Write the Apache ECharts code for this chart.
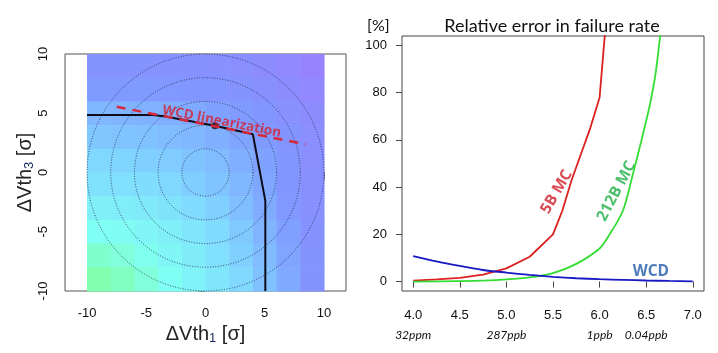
<!DOCTYPE html>
<html>
<head>
<meta charset="utf-8">
<script src="https://cdn.jsdelivr.net/npm/echarts@6/dist/echarts.min.js"></script>
<style>
html, body { margin: 0; padding: 0; background: #fff; }
#main { width: 718px; height: 353px; }
</style>
</head>
<body>
<div id="main"></div>
<script>
// ---- left panel: failure region in (dVth1, dVth3) space
const fieldX = [-9, -7, -5, -3, -1, 1, 3, 5, 7, 9];
const fieldY = [9, 7, 5, 3, 1, -1, -3, -5, -7, -9];
const fieldValues = [
  [0.80, 0.80, 0.80, 0.81, 0.81, 0.82, 0.84, 0.87, 0.91, 0.97],
  [0.74, 0.74, 0.74, 0.75, 0.76, 0.78, 0.80, 0.83, 0.87, 0.92],
  [0.63, 0.64, 0.65, 0.66, 0.68, 0.71, 0.74, 0.78, 0.82, 0.87],
  [0.57, 0.58, 0.59, 0.61, 0.63, 0.66, 0.70, 0.74, 0.79, 0.85],
  [0.50, 0.51, 0.53, 0.55, 0.58, 0.61, 0.66, 0.71, 0.77, 0.84],
  [0.44, 0.45, 0.47, 0.50, 0.54, 0.58, 0.63, 0.69, 0.76, 0.83],
  [0.35, 0.36, 0.39, 0.43, 0.48, 0.53, 0.60, 0.67, 0.75, 0.82],
  [0.25, 0.27, 0.30, 0.35, 0.41, 0.48, 0.56, 0.64, 0.72, 0.81],
  [0.13, 0.17, 0.23, 0.30, 0.37, 0.45, 0.53, 0.61, 0.70, 0.80],
  [0.03, 0.09, 0.17, 0.25, 0.33, 0.41, 0.50, 0.59, 0.68, 0.79]
];
const circleRadii = [2, 4, 6, 8, 10];
const boundaryX = [-10, -4.5, -3.5, 0.8, 4.0, 5.05, 5.05];
const boundaryY = [4.85, 4.85, 4.75, 3.95, 3.22, -2.4, -10];
const linearX = [-7.5, 8.45];
const linearY = [5.55, 2.38];
const wcdPoint = [0.8, 3.95];
const linearLabelPos = [1.37, 4.3];
const sigmaTicks = [-10, -5, 0, 5, 10];

// ---- right panel: relative error vs sigma level
const mc5bX = [4.0, 4.25, 4.5, 4.75, 5.0, 5.25, 5.5, 5.6, 5.7, 5.8, 5.9, 6.0, 6.07];
const mc5bY = [0.4, 0.9, 1.6, 2.9, 5.6, 10.5, 20, 30, 43, 54, 65, 78, 111];
const mc212bX = [4.0, 4.5, 4.75, 5.0, 5.25, 5.5, 5.75, 6.0, 6.1, 6.25, 6.36, 6.45, 6.54, 6.6, 6.65, 6.67];
const mc212bY = [0.0, 0.2, 0.4, 0.9, 1.8, 3.6, 7.5, 14, 19.5, 30, 46, 60, 75, 88, 104, 110];
const wcdX = [4.0, 4.25, 4.5, 4.75, 5.0, 5.25, 5.5, 5.75, 6.0, 6.25, 6.5, 6.75, 7.0];
const wcdY = [10.8, 8.5, 6.6, 4.9, 3.8, 2.8, 2.0, 1.4, 1.0, 0.7, 0.45, 0.25, 0.1];
const levelTicks = [4.0, 4.5, 5.0, 5.5, 6.0, 6.5, 7.0];
const errorTicks = [0, 20, 40, 60, 80, 100];
const rateTicks = [4.0, 5.0, 6.0, 6.5];
const rateLabels = ['32ppm', '287ppb', '1ppb', '0.04ppb'];
const curveLabels = [
  { text: '5B MC', pos: [5.54, 38], rotate: 60, color: '#cf1f2b' },
  { text: '212B MC', pos: [6.18, 38.3], rotate: 62, color: '#1fae45' },
  { text: 'WCD', pos: [6.55, 4.3], rotate: 0, color: '#1f5aa8' }
];

const zip = (xs, ys) => xs.map((x, i) => [x, ys[i]]);

const fieldData = [];
fieldY.forEach((y, r) => fieldX.forEach((x, c) => fieldData.push([x, y, fieldValues[r][c]])));

const chart = echarts.init(document.getElementById('main'));
const tickFont = { fontFamily: 'Liberation Sans', fontSize: 13, color: '#111' };
const nameRich = {
  b: { fontFamily: 'Liberation Sans', fontSize: 20, color: '#222' },
  s: { fontFamily: 'Liberation Sans', fontSize: 13, color: '#1a2a60', verticalAlign: 'bottom', padding: [8, 0, 0, 0] }
};
const boldLabel = { fontFamily: 'Open Sans', fontWeight: 'bold' };

const option = {
  animation: false,
  title: [
    { text: 'Relative error in failure rate', left: 547, top: 12, textAlign: 'center',
      textStyle: { fontFamily: 'Lato', fontWeight: 'normal', fontSize: 18, color: '#111' } },
    { text: '[%]', left: 362, top: 13,
      textStyle: { fontFamily: 'Lato', fontWeight: 'normal', fontSize: 16, color: '#111' } }
  ],
  grid: [
    { left: 65, top: 54, width: 281, height: 237, show: true, borderColor: '#555', borderWidth: 1, backgroundColor: 'transparent' },
    { left: 402, top: 36, width: 302, height: 255, show: true, borderColor: '#444', borderWidth: 1, backgroundColor: 'transparent' }
  ],
  visualMap: {
    show: false, type: 'continuous', seriesIndex: 0, dimension: 2, min: 0, max: 1,
    inRange: { color: ['#80ffa4', '#80fff4', '#80d8ff', '#8098ff', '#9a80ff'] }
  },
  xAxis: [
    { gridIndex: 0, type: 'value', min: -11.86, max: 11.86,
      axisLine: { show: false }, splitLine: { show: false },
      axisTick: { show: true, length: 7, customValues: sigmaTicks, lineStyle: { color: '#444' } },
      axisLabel: { customValues: sigmaTicks, margin: 16, ...tickFont },
      name: '{b|ΔVth}{s|1}{b| [σ]}', nameLocation: 'middle', nameGap: 26,
      nameTextStyle: { rich: nameRich } },
    { gridIndex: 1, type: 'value', min: 3.88, max: 7.12,
      axisLine: { show: false }, splitLine: { show: false },
      axisTick: { show: true, length: 6, customValues: levelTicks, lineStyle: { color: '#444' } },
      axisLabel: { customValues: levelTicks, margin: 18, formatter: v => v.toFixed(1), ...tickFont } },
    { gridIndex: 1, type: 'value', min: 3.88, max: 7.12, position: 'bottom',
      axisLine: { show: false }, splitLine: { show: false }, axisTick: { show: false },
      axisLabel: { customValues: rateTicks, margin: 38,
        formatter: v => rateLabels[rateTicks.indexOf(v)] || '',
        fontFamily: 'Lato', fontStyle: 'italic', fontSize: 12, color: '#111' } }
  ],
  yAxis: [
    { gridIndex: 0, type: 'value', min: -10, max: 10,
      axisLine: { show: false }, splitLine: { show: false },
      axisTick: { show: true, length: 7, customValues: sigmaTicks, lineStyle: { color: '#444' } },
      axisLabel: { customValues: sigmaTicks, rotate: 90, margin: 15, ...tickFont },
      name: '{b|ΔVth}{s|3}{b| [σ]}', nameLocation: 'middle', nameGap: 26, nameRotate: 90,
      nameTextStyle: { rich: nameRich } },
    { gridIndex: 1, type: 'value', min: -4, max: 104,
      axisLine: { show: false }, splitLine: { show: false },
      axisTick: { show: true, length: 6, customValues: errorTicks, lineStyle: { color: '#444' } },
      axisLabel: { customValues: errorTicks, margin: 15, ...tickFont } }
  ],
  series: [
    { // colour field
      type: 'custom', xAxisIndex: 0, yAxisIndex: 0, data: fieldData, silent: true,
      renderItem: (params, api) => {
        const p0 = api.coord([api.value(0) - 1, api.value(1) + 1]);
        const p1 = api.coord([api.value(0) + 1, api.value(1) - 1]);
        return { type: 'rect', shape: { x: p0[0], y: p0[1], width: p1[0] - p0[0] + 0.6, height: p1[1] - p0[1] + 0.6 },
          style: { fill: api.visual('color') } };
      }
    },
    { // sigma circles
      type: 'custom', xAxisIndex: 0, yAxisIndex: 0, silent: true,
      data: circleRadii.map(r => [0, 0, r]),
      renderItem: (params, api) => {
        const c = api.coord([api.value(0), api.value(1)]);
        const r = api.size([api.value(2), 0])[0];
        return { type: 'circle', shape: { cx: c[0], cy: c[1], r: r },
          style: { fill: null, stroke: 'rgba(30,30,60,0.85)', lineWidth: 0.9, lineDash: [1, 1.6] } };
      }
    },
    { type: 'line', xAxisIndex: 0, yAxisIndex: 0, data: zip(boundaryX, boundaryY), symbol: 'none',
      lineStyle: { color: '#0d0d1a', width: 2 } },
    { type: 'line', xAxisIndex: 0, yAxisIndex: 0, data: zip(linearX, linearY), symbol: 'none',
      lineStyle: { color: '#d8283a', width: 2.5, type: [9, 7] } },
    { type: 'scatter', xAxisIndex: 0, yAxisIndex: 0, data: [wcdPoint], symbolSize: 7,
      itemStyle: { color: '#111' } },
    { type: 'scatter', xAxisIndex: 0, yAxisIndex: 0, data: [linearLabelPos], symbolSize: 0,
      label: { show: true, position: 'inside', rotate: -11, formatter: 'WCD linearization',
        ...boldLabel, fontSize: 13.5, color: '#d42032' } },
    { type: 'line', xAxisIndex: 1, yAxisIndex: 1, data: zip(mc5bX, mc5bY), symbol: 'none', clip: true,
      lineStyle: { color: '#dd2020', width: 1.8 } },
    { type: 'line', xAxisIndex: 1, yAxisIndex: 1, data: zip(mc212bX, mc212bY), symbol: 'none', smooth: 0.3, clip: true,
      lineStyle: { color: '#33dd33', width: 1.8 } },
    { type: 'line', xAxisIndex: 1, yAxisIndex: 1, data: zip(wcdX, wcdY), symbol: 'none', smooth: 0.3,
      lineStyle: { color: '#1818c4', width: 1.8 } },
    { type: 'scatter', xAxisIndex: 1, yAxisIndex: 1, symbolSize: 0,
      data: curveLabels.map(l => ({ value: l.pos,
        label: { show: true, position: 'inside', formatter: l.text, rotate: l.rotate, color: l.color,
          ...boldLabel, fontSize: 15.5 } })) }
  ]
};
chart.setOption(option);
</script>
</body>
</html>
